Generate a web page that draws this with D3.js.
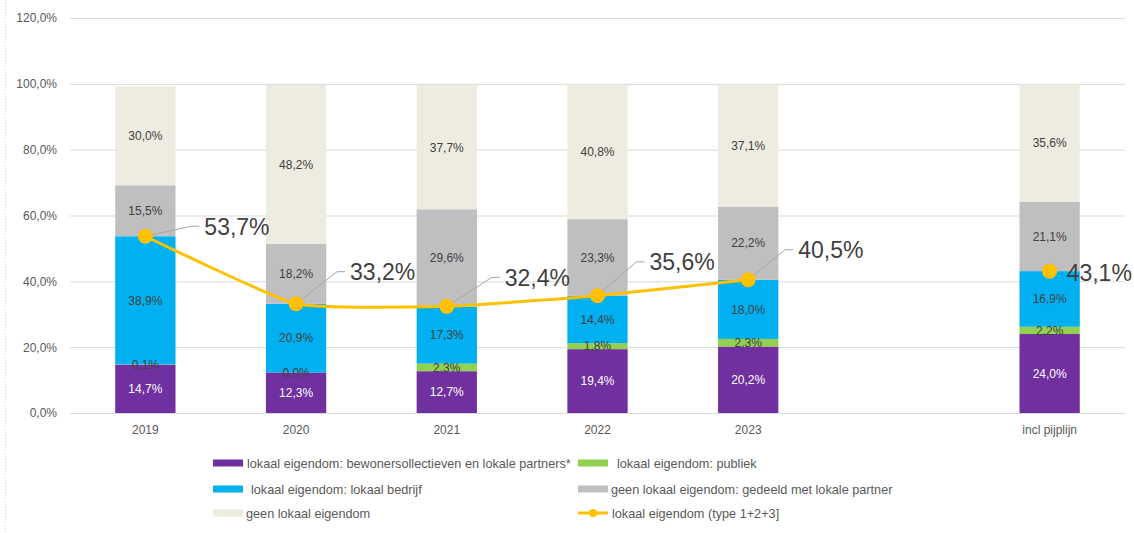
<!DOCTYPE html>
<html>
<head>
<meta charset="utf-8">
<script src="https://cdn.jsdelivr.net/npm/d3@7"></script>
<style>
  html, body { margin: 0; padding: 0; background: #fff; }
  svg { display: block; font-family: "Liberation Sans", Arial, sans-serif; }
</style>
</head>
<body>
<svg id="chart" width="1134" height="534"></svg>
<script>
// ---- Data ----
const categories = ["2019", "2020", "2021", "2022", "2023", "", "incl pijplijn"];
const bewoners   = [14.7, 12.3, 12.7, 19.4, 20.2, null, 24.0];
const publiek    = [0.1, 0.0, 2.3, 1.8, 2.3, null, 2.2];
const bedrijf    = [38.9, 20.9, 17.3, 14.4, 18.0, null, 16.9];
const gedeeld    = [15.5, 18.2, 29.6, 23.3, 22.2, null, 21.1];
const geenLokaal = [30.0, 48.2, 37.7, 40.8, 37.1, null, 35.6];
const lokaalTotaal = [53.7, 33.2, 32.4, 35.6, 40.5, null, 43.1];
const yTicks = [0, 20, 40, 60, 80, 100, 120];
const seriesNames = [
  "lokaal eigendom: bewonersollectieven en lokale partners*",
  "lokaal eigendom: publiek",
  "lokaal eigendom: lokaal bedrijf",
  "geen lokaal eigendom: gedeeld met lokale partner",
  "geen lokaal eigendom"
];
const lineName = "lokaal eigendom (type 1+2+3]";

// ---- Styling / layout ----
const colors = ["#7030A0", "#92D050", "#00B0F0", "#BFBFBF", "#EEECE1"];
const labelColors = ["#FFFFFF", "#404040", "#404040", "#404040", "#404040"];
const lineColor = "#FFC000";
// offsets of the big line labels relative to their point [dx, dy, leader?]
const lineLabelOffsets = [[59, -10, true], [54, -32, true], [58, -29, true], [52, -34, true], [50, -30, true], null, [17, 2, false]];

const svg = d3.select("#chart");
const margin = { left: 70, right: 9, top: 18, bottom: 121 };
const W = 1134, H = 534;

const x = d3.scaleBand().domain(d3.range(categories.length))
  .range([margin.left, W - margin.right]).paddingInner(0.6).paddingOuter(0.3);
const y = d3.scaleLinear().domain([0, 120]).range([H - margin.bottom, margin.top]);

const fmt = v => v.toFixed(1).replace(".", ",") + "%";

// left border dotted
svg.append("line").attr("x1", 5.5).attr("x2", 5.5).attr("y1", 0).attr("y2", H)
  .attr("stroke", "#D0D0D0").attr("stroke-dasharray", "1,2");

// grid + y axis
const yAxis = d3.axisLeft(y).tickValues(yTicks).tickFormat(fmt)
  .tickSize(-(W - margin.right - margin.left)).tickPadding(13);
const gy = svg.append("g").attr("transform", `translate(${margin.left},0)`).call(yAxis);
gy.select(".domain").remove();
gy.selectAll(".tick line").attr("stroke", "#D9D9D9").attr("stroke-width", 1);
gy.selectAll(".tick text").attr("fill", "#595959").style("font-size", "12px")
  .style("font-family", "'Liberation Sans', Arial, sans-serif");

// x axis
const xAxis = d3.axisBottom(x).tickFormat(i => categories[i]).tickSize(0).tickPadding(12);
const gx = svg.append("g").attr("transform", `translate(0,${y(0)})`).call(xAxis);
gx.select(".domain").attr("stroke", "#D9D9D9");
gx.selectAll(".tick text").attr("fill", "#595959").style("font-size", "12px")
  .style("font-family", "'Liberation Sans', Arial, sans-serif");

// stacked bars
const seriesData = [bewoners, publiek, bedrijf, gedeeld, geenLokaal];
const rows = categories.map((c, i) => {
  const r = { i };
  seriesData.forEach((s, k) => r["s" + k] = s[i] == null ? 0 : s[i]);
  return r;
}).filter(r => bewoners[r.i] != null);
const stack = d3.stack().keys(seriesData.map((_, k) => "s" + k));
const stacked = stack(rows);

const gBars = svg.append("g");
stacked.forEach((layer, k) => {
  gBars.selectAll(null).data(layer).enter().append("rect")
    .attr("x", d => x(d.data.i))
    .attr("width", x.bandwidth())
    .attr("y", d => y(d[1]))
    .attr("height", d => y(d[0]) - y(d[1]))
    .attr("fill", colors[k]);
});
stacked.forEach((layer, k) => {
  gBars.selectAll(null).data(layer).enter().append("text")
    .attr("x", d => x(d.data.i) + x.bandwidth() / 2)
    .attr("y", d => (y(d[0]) + y(d[1])) / 2)
    .attr("dy", "0.36em")
    .attr("text-anchor", "middle")
    .attr("fill", labelColors[k])
    .style("font-size", "12px")
    .text(d => fmt(d.data["s" + k]));
});

// line
const pts = lokaalTotaal.map((v, i) => ({ i, v })).filter(d => d.v != null);
const cx = d => x(d.i) + x.bandwidth() / 2;
const line = d3.line().defined(d => d.v != null).x(cx).y(d => y(d.v)).curve(d3.curveCardinal.tension(0.55));
svg.append("path")
  .datum(lokaalTotaal.map((v, i) => ({ i, v })))
  .attr("d", line).attr("fill", "none").attr("stroke", lineColor).attr("stroke-width", 3);

// leader lines + labels
pts.forEach(d => {
  const off = lineLabelOffsets[d.i];
  const px = cx(d), py = y(d.v);
  const lx = px + off[0], ly = py + off[1];
  if (off[2]) {
    svg.append("polyline")
      .attr("points", `${px},${py} ${lx - 13},${ly} ${lx - 5},${ly}`)
      .attr("fill", "none").attr("stroke", "#A6A6A6").attr("stroke-width", 1);
  }
});
svg.selectAll(".pt").data(pts).enter().append("circle")
  .attr("cx", cx).attr("cy", d => y(d.v)).attr("r", 7.5).attr("fill", lineColor);
pts.forEach(d => {
  const off = lineLabelOffsets[d.i];
  svg.append("text")
    .attr("x", cx(d) + off[0]).attr("y", y(d.v) + off[1]).attr("dy", "0.36em")
    .attr("fill", "#404040").style("font-size", "23px")
    .text(fmt(d.v));
});

// legend
const legendItems = [
  { name: seriesNames[0], color: colors[0], x: 213, y: 463, tx: 247 },
  { name: seriesNames[1], color: colors[1], x: 578, y: 463, tx: 617 },
  { name: seriesNames[2], color: colors[2], x: 213, y: 489, tx: 251 },
  { name: seriesNames[3], color: colors[3], x: 578, y: 489, tx: 611 },
  { name: seriesNames[4], color: colors[4], x: 213, y: 513, tx: 246 },
  { name: lineName, color: lineColor, x: 578, y: 513, tx: 612, line: true }
];
const lg = svg.append("g");
legendItems.forEach(it => {
  if (it.line) {
    lg.append("line").attr("x1", it.x).attr("x2", it.x + 30).attr("y1", it.y).attr("y2", it.y)
      .attr("stroke", it.color).attr("stroke-width", 3);
    lg.append("circle").attr("cx", it.x + 15).attr("cy", it.y).attr("r", 4).attr("fill", it.color);
  } else {
    lg.append("rect").attr("x", it.x).attr("y", it.y - 3.5).attr("width", 30).attr("height", 7)
      .attr("fill", it.color);
  }
  lg.append("text").attr("x", it.tx).attr("y", it.y).attr("dy", "0.36em")
    .attr("fill", "#595959").style("font-size", "12.7px").text(it.name);
});
</script>
</body>
</html>
